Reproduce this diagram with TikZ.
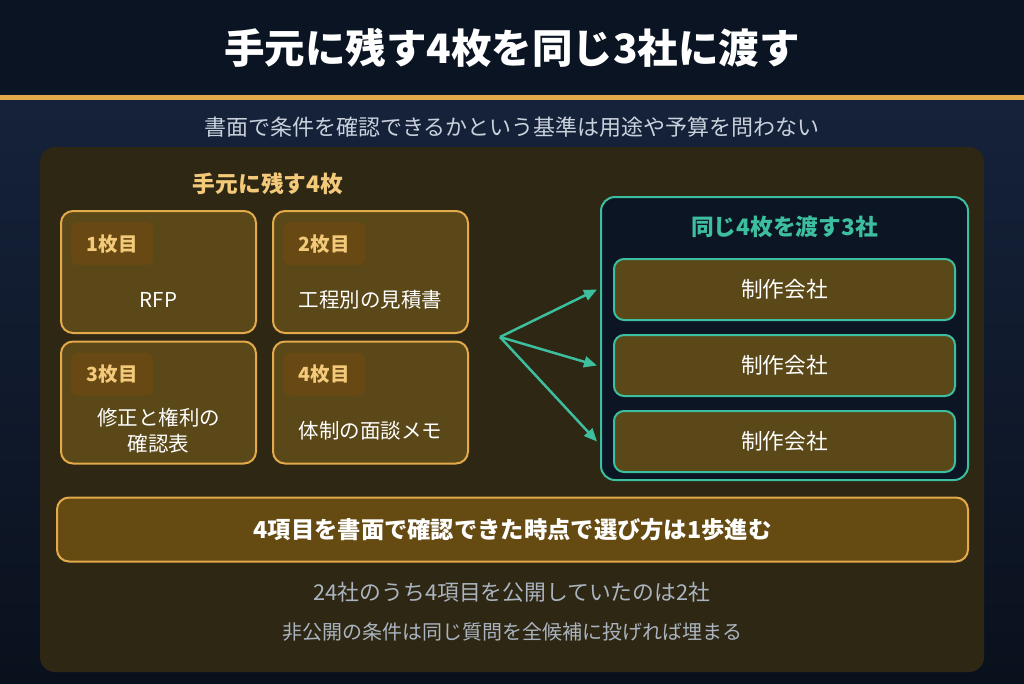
\documentclass[tikz,border=0pt]{standalone}
\usepackage{fontspec}
\setmainfont{Noto Sans CJK JP}
\usetikzlibrary{arrows.meta}
\definecolor{navytop}{HTML}{0A1423}
\definecolor{navyhi}{HTML}{15223A}
\definecolor{navylo}{HTML}{0A111D}
\definecolor{gold}{HTML}{E3A94A}
\definecolor{goldtext}{HTML}{F3C97A}
\definecolor{panelbg}{HTML}{2E2713}
\definecolor{cardfill}{HTML}{5A4818}
\definecolor{tagfill}{HTML}{684913}
\definecolor{barfill}{HTML}{654A12}
\definecolor{mint}{HTML}{3DBF9F}
\definecolor{mintdark}{HTML}{0B1524}
\definecolor{subgray}{HTML}{C9D1DC}
\definecolor{notegray}{HTML}{AAB4C0}
\newcommand{\fs}[1]{\fontsize{#1pt}{\dimexpr #1pt*5/4\relax}\selectfont}
\begin{document}
\begin{tikzpicture}[x=1pt,y=-1pt,
  card/.style={draw=gold,line width=2pt,fill=cardfill,rounded corners=12pt,minimum width=195pt,minimum height=122pt,inner sep=0pt},
  tagbox/.style={fill=tagfill,rounded corners=7pt,minimum width=82pt,minimum height=43pt,inner sep=0pt,text=goldtext,font=\bfseries\fs{19.5}},
  body/.style={text=white,font=\fs{20.5},align=center},
  firm/.style={draw=mint,line width=2pt,fill=cardfill,rounded corners=10pt,minimum width=341pt,minimum height=61pt,text=white,font=\fs{21.7}},
  fanarrow/.style={draw=mint,line width=2.5pt,-{Triangle[length=13pt,width=11pt]}}]
\useasboundingbox (0,0) rectangle (1024,683);
% backdrop
\fill[navytop] (0,0) rectangle (1024,96);
\shade[top color=navyhi,bottom color=navylo] (0,100) rectangle (1024,683);
\fill[gold] (0,95) rectangle (1024,100);
\node[text=white,font=\bfseries\fs{40.5}] (title) at (512,48) {手元に残す4枚を同じ3社に渡す};
\node[text=subgray,font=\fs{22}] (subtitle) at (512,127) {書面で条件を確認できるかという基準は用途や予算を問わない};
\fill[panelbg,rounded corners=15pt] (40,147) rectangle (984,672);
% left: the four sheets
\node[text=goldtext,font=\bfseries\fs{22.7}] (keephead) at (268,184) {手元に残す4枚};
\node[card] (card1) at (158.5,272) {};
\node[card] (card2) at (370.5,272) {};
\node[card] (card3) at (158.5,402.5) {};
\node[card] (card4) at (370.5,402.5) {};
\node[tagbox,anchor=north west] (tag1) at ([shift={(11,12)}]card1.north west) {1枚目};
\node[tagbox,anchor=north west] (tag2) at ([shift={(11,12)}]card2.north west) {2枚目};
\node[tagbox,anchor=north west] (tag3) at ([shift={(11,12)}]card3.north west) {3枚目};
\node[tagbox,anchor=north west] (tag4) at ([shift={(11,12)}]card4.north west) {4枚目};
\node[body] (rfp) at ([yshift=-28pt]card1.center) {RFP};
\node[body] (estimate) at ([yshift=-28pt]card2.center) {工程別の見積書};
\node[body] (rights) at ([yshift=-28pt]card3.center) {修正と権利の\\確認表};
\node[body] (memo) at ([yshift=-28pt]card4.center) {体制の面談メモ};
% right: the three firms
\draw[mint,line width=2pt,fill=mintdark,rounded corners=14pt] (601,197) rectangle (968,480);
\node[text=mint,font=\bfseries\fs{22.7}] (givehead) at (784.5,227) {同じ4枚を渡す3社};
\node[firm] (firm1) at (784.5,289.5) {制作会社};
\node[firm] (firm2) at (784.5,365.5) {制作会社};
\node[firm] (firm3) at (784.5,441.5) {制作会社};
\coordinate (fan) at (500,337);
\draw[fanarrow] (fan) -- ([xshift=-16pt]firm1.west);
\draw[fanarrow] (fan) -- ([xshift=-16pt]firm2.west);
\draw[fanarrow] (fan) -- ([xshift=-16pt]firm3.west);
% bottom
\node[draw=gold,line width=2pt,fill=barfill,rounded corners=12pt,minimum width=911pt,minimum height=64pt,text=white,font=\bfseries\fs{23.3}] (step) at (512.5,529.5) {4項目を書面で確認できた時点で選び方は1歩進む};
\node[text=notegray,font=\fs{21.8}] (note1) at (512,592) {24社のうち4項目を公開していたのは2社};
\node[text=notegray,font=\fs{20}] (note2) at (512,632) {非公開の条件は同じ質問を全候補に投げれば埋まる};
\end{tikzpicture}
\end{document}
